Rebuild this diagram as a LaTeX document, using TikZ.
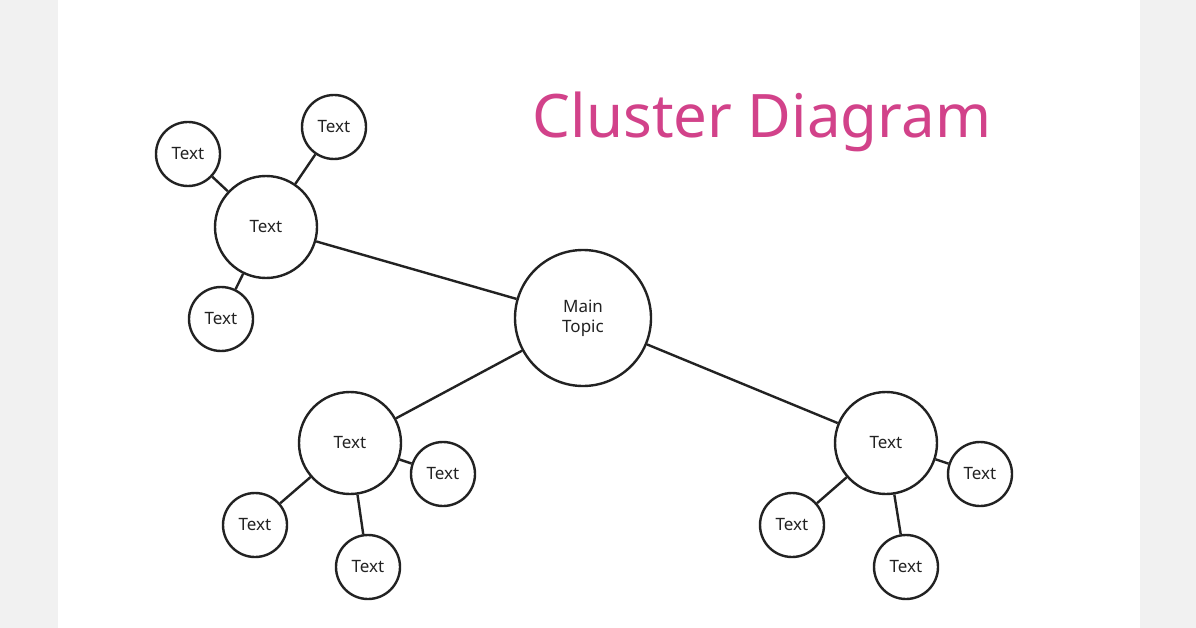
\documentclass[tikz,border=0pt]{standalone}
\usepackage{fontspec}
\setmainfont{Noto Sans}
\definecolor{bg}{HTML}{F1F1F1}
\definecolor{ttl}{HTML}{D2428A}
\definecolor{ln}{HTML}{222222}
\begin{document}
\begin{tikzpicture}[x=1pt,y=-1pt,
  c/.style={circle,draw=ln,line width=2.4pt,fill=white,inner sep=0pt,minimum size=#1,font=\fontsize{17}{20}\selectfont,text=ln,align=center},
  e/.style={draw=ln,line width=2.4pt}]
\useasboundingbox (0,0) rectangle (1196,628);
\fill[bg] (0,0) rectangle (1196,628);
\fill[white] (58,0) rectangle (1140,628);
\node[text=ttl,font=\fontsize{60}{70}\selectfont,anchor=center] (title) at (762,122) {Cluster Diagram};
\node[c=136pt] (m) at (583,318) {Main\\Topic};
\node[c=102pt] (a) at (266,227) {Text};
\node[c=64pt] (a1) at (188,154) {Text};
\node[c=64pt] (a2) at (334,127) {Text};
\node[c=64pt] (a3) at (221,319) {Text};
\node[c=102pt] (b) at (350,443) {Text};
\node[c=64pt] (b1) at (255,525) {Text};
\node[c=64pt] (b2) at (368,567) {Text};
\node[c=64pt] (b3) at (443,474) {Text};
\node[c=102pt] (d) at (886,443) {Text};
\node[c=64pt] (d1) at (792,525) {Text};
\node[c=64pt] (d2) at (906,567) {Text};
\node[c=64pt] (d3) at (980,474) {Text};
\foreach \u/\v in {m/a,m/b,m/d,a/a1,a/a2,a/a3,b/b1,b/b2,b/b3,d/d1,d/d2,d/d3}
  \draw[e] (\u) -- (\v);
\end{tikzpicture}
\end{document}
